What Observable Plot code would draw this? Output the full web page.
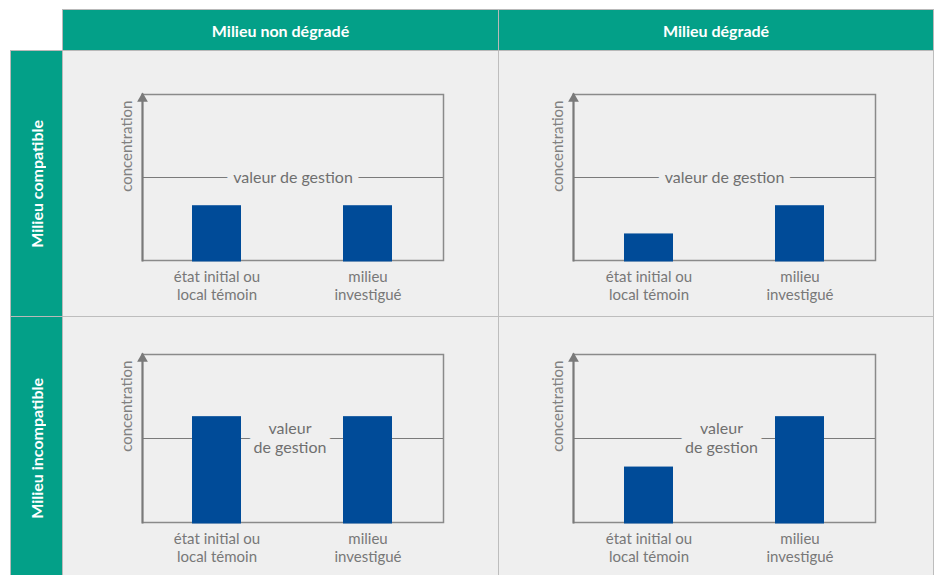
<!DOCTYPE html>
<html>
<head>
<meta charset="utf-8">
<script src="https://cdn.jsdelivr.net/npm/d3@7"></script>
<script src="https://cdn.jsdelivr.net/npm/@observablehq/plot@0.6"></script>
<style>
  html, body { margin: 0; padding: 0; background: #fff; }
  #wrap { position: relative; width: 937px; height: 575px; overflow: hidden; font-family: Lato, "Open Sans", sans-serif; }
  .hdr { position: absolute; background: #03a088; color: #fff; font-weight: bold; font-size: 16px;
         display: flex; align-items: center; justify-content: center; box-sizing: border-box; border: 1px solid #b9b9b9; }
  .vt { writing-mode: vertical-rl; transform: rotate(180deg); white-space: nowrap; }
  .cell { position: absolute; background: #efefef; box-sizing: border-box; border: 1px solid #bdbdbd; }
  .plot { position: absolute; }
</style>
</head>
<body>
<div id="wrap"></div>
<script>
// ---- data ----
const colHeaders = ["Milieu non dégradé", "Milieu dégradé"];
const rowHeaders = ["Milieu compatible", "Milieu incompatible"];
const categories = ["état initial ou\nlocal témoin", "milieu\ninvestigué"];
const axisLabel = "concentration";
const valeurGestion = 0.5;
const gestionLabels = ["valeur de gestion", "valeur\nde gestion"];
const nonDegradeCompatible = [0.33, 0.33];
const degradeCompatible = [0.16, 0.33];
const nonDegradeIncompatible = [0.63, 0.63];
const degradeIncompatible = [0.33, 0.63];

const wrap = document.getElementById("wrap");
function div(cls, css, html) {
  const d = document.createElement("div");
  d.className = cls;
  Object.assign(d.style, css);
  if (html != null) d.innerHTML = html;
  wrap.appendChild(d);
  return d;
}

// grid geometry
const colX = [62, 498, 933];
const rowY = [50, 316, 580];

// cells
for (let r = 0; r < 2; r++) for (let c = 0; c < 2; c++) {
  div("cell", {left: colX[c] + "px", top: rowY[r] + "px", width: (colX[c+1] - colX[c] + 1) + "px", height: (rowY[r+1] - rowY[r] + 1) + "px"});
}
// headers
colHeaders.forEach((t, c) => div("hdr", {left: colX[c] + "px", top: "9px", width: (colX[c+1] - colX[c] + 1) + "px", height: "42px"}, t));
rowHeaders.forEach((t, r) => div("hdr", {left: "10px", top: rowY[r] + "px", width: "53px", height: (rowY[r+1] - rowY[r] + 1) + "px"}, `<span class="vt">${t}</span>`));

function panel(values, labelIdx, pos) {
  const data = categories.map((cat, i) => ({cat, v: values[i]}));
  const label = gestionLabels[labelIdx];
  const two = label.includes("\n");
  const bg = "#efefef";
  const chart = Plot.plot({
    width: pos.w, height: pos.h,
    marginLeft: pos.ml, marginRight: pos.mr, marginTop: pos.mt, marginBottom: pos.mb,
    style: {fontFamily: "Lato, 'Open Sans', sans-serif", fontSize: "15px", background: "transparent", overflow: "visible"},
    x: {type: "band", domain: categories, paddingInner: 0.675, paddingOuter: 0.334, label: null},
    y: {domain: [0, 1], axis: null},
    marks: [
      Plot.frame({stroke: "#8a8a8a", strokeWidth: 1.5}),
      Plot.frame({anchor: "left", stroke: "#7a7a7a", strokeWidth: 2}),
      Plot.dot([1], {y: () => 0.975, frameAnchor: "left", symbol: "triangle", r: 4, fill: "#7a7a7a", stroke: null}),
      Plot.text([axisLabel], {text: d => d, frameAnchor: "top-left", rotate: -90, textAnchor: "end", lineAnchor: "middle", dx: -15, dy: 6, fill: "#808080", fontSize: 15, letterSpacing: "0.8px"}),
      Plot.ruleY([valeurGestion], {stroke: "#7a7a7a", strokeWidth: 1.2}),
      Plot.text([label], {text: d => d, y: () => valeurGestion, frameAnchor: "middle", dy: two ? -1 : 0, dx: pos.tdx || 0,
        lineAnchor: "middle", lineHeight: 1.15, fill: "#6f6f6f", fontSize: 16,
        stroke: bg, strokeWidth: two ? 18 : 13, strokeLinejoin: "round"}),
      Plot.barY(data, {x: "cat", y: "v", fill: "#004b98", insetBottom: -1.5}),
      Plot.axisX({tickSize: 0, tickPadding: 9, fontSize: 15, fill: "#787878", lineHeight: 1.2, label: null})
    ]
  });
  chart.classList.add("plot");
  chart.style.left = pos.x + "px";
  chart.style.top = pos.y + "px";
  wrap.appendChild(chart);
}

panel(nonDegradeCompatible, 0, {x: 62, y: 50, w: 436, h: 266, ml: 80, mr: 55, mt: 44, mb: 56});
panel(degradeCompatible, 0, {x: 498, y: 50, w: 435, h: 266, ml: 75, mr: 58, mt: 44, mb: 56});
panel(nonDegradeIncompatible, 1, {x: 62, y: 316, w: 436, h: 259, ml: 80, mr: 55, mt: 38, mb: 53, tdx: -3});
panel(degradeIncompatible, 1, {x: 498, y: 316, w: 435, h: 259, ml: 75, mr: 58, mt: 38, mb: 53, tdx: -3});
</script>
</body>
</html>
